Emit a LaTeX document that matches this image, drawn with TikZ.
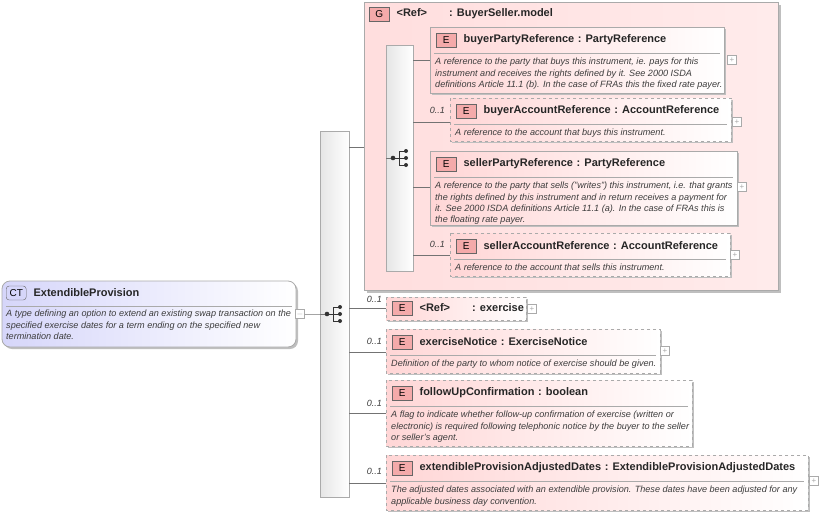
\documentclass[tikz,border=0pt]{standalone}
\usepackage{fontspec}
\setmainfont{Liberation Sans}
\usepackage{tikz}
\usetikzlibrary{positioning,shadows}
\definecolor{elpink}{RGB}{255,214,214}
\definecolor{grppink}{RGB}{255,222,222}
\definecolor{badge}{RGB}{244,170,170}
\definecolor{ctblue}{RGB}{214,214,250}
\definecolor{edge}{RGB}{170,170,170}
\definecolor{txt}{RGB}{60,60,60}
\tikzset{
	el box/.style={draw=edge,line width=0.8pt,left color=elpink,right color=white,drop shadow={shadow xshift=2pt,shadow yshift=-2pt,fill=black!25,opacity=1}},
	opt box/.style={el box,dashed},
	grp box/.style={draw=edge,line width=0.8pt,left color=grppink,right color=grppink!60,drop shadow={shadow xshift=3pt,shadow yshift=-3pt,fill=black!25,opacity=1}},
	ct box/.style={draw=edge,line width=0.8pt,rounded corners=8pt,left color=ctblue,right color=white,drop shadow={shadow xshift=2pt,shadow yshift=-2pt,fill=black!25,opacity=1}},
	bar/.style={draw=edge,left color=black!10,right color=white},
	badge/.style={draw=black!60,fill=badge,minimum width=20pt,minimum height=14pt,inner sep=0pt,font=\fontsize{10}{10}\selectfont},
	title/.style={anchor=west,inner sep=0pt,font=\bfseries\fontsize{11}{12}\selectfont,text=black!85},
	desc/.style={anchor=north west,inner sep=0pt,align=left,font=\itshape\fontsize{9.1}{11.3}\selectfont,text=txt},
	card/.style={anchor=east,inner sep=0pt,font=\itshape\fontsize{9}{9}\selectfont,text=txt},
	plus/.style={draw=edge,fill=white,minimum size=9pt,inner sep=0pt,font=\fontsize{8}{8}\selectfont,text=edge},
	conn/.style={draw=black!55,line width=0.5pt}
}
% element box: name, x1, y1, x2, y2, style, title, description
\newcommand{\elem}[8]{%
	\draw[#6] (#2,#3) rectangle (#4,#5);
	\node[badge,anchor=west] (#1b) at (#2+6,#3+13) {E};
	\node[title,right=7pt of #1b] (#1) {#7};
	\draw[edge] (#2+4,#3+26) -- (#4-4,#3+26);
	\node[desc] (#1d) at (#2+5,#3+31) {#8};
}
\begin{document}
\begin{tikzpicture}[x=1pt,y=-1pt]
	\useasboundingbox (0,0) rectangle (820,515);
	% complex type
	\draw[ct box] (2,281) rectangle (296,347);
	\node[draw=black!60,fill=ctblue,rounded corners=3pt,minimum width=20pt,minimum height=14pt,inner sep=0pt,font=\fontsize{10}{10}\selectfont,anchor=west] (ctb) at (6,293) {CT};
	\node[title,right=7pt of ctb] (ct) {ExtendibleProvision};
	\draw[edge] (6,306) -- (292,306);
	\node[desc] (ctd) at (6,310) {A type defining an option to extend an existing swap transaction on the\\specified exercise dates for a term ending on the specified new\\termination date.};
	\node[plus] (ctm) at (300,314) {$-$};
	% sequences
	\draw[bar] (320,131) rectangle (349,497);
	\coordinate (seq) at (334,314);
	\draw[grp box] (364,2) rectangle (778,290);
	\node[badge,anchor=west] (gb) at (369,14) {G};
	\node[title,right=7pt of gb] (g) {<Ref>\hspace{22pt}: BuyerSeller.model};
	\draw[bar] (386,45) rectangle (413,271);
	\coordinate (iseq) at (400,158);
	% group members
	\elem{bpr}{430}{27}{724}{93}{el box}{buyerPartyReference\,\,: PartyReference}{A reference to the party that buys this instrument, ie. pays for this\\instrument and receives the rights defined by it. See 2000 ISDA\\definitions Article 11.1 (b). In the case of FRAs this the fixed rate payer.}
	\elem{bacr}{450}{98}{731}{141}{opt box}{buyerAccountReference\,\,: AccountReference}{A reference to the account that buys this instrument.}
	\elem{spr}{430}{151}{737}{225}{el box}{sellerPartyReference\,\,: PartyReference}{A reference to the party that sells ("writes") this instrument, i.e. that grants\\the rights defined by this instrument and in return receives a payment for\\it. See 2000 ISDA definitions Article 11.1 (a). In the case of FRAs this is\\the floating rate payer.}
	\elem{sacr}{450}{233}{730}{276}{opt box}{sellerAccountReference\,\,: AccountReference}{A reference to the account that sells this instrument.}
	% sequence members
	\draw[opt box] (386,297) rectangle (526,320);
	\node[badge,anchor=west] (exb) at (392,308) {E};
	\node[title,right=7pt of exb] (ex) {<Ref>\hspace{22pt}: exercise};
	\elem{en}{386}{329}{660}{373}{opt box}{exerciseNotice\,\,: ExerciseNotice}{Definition of the party to whom notice of exercise should be given.}
	\elem{fuc}{386}{380}{692}{446}{opt box}{followUpConfirmation\,\,: boolean}{A flag to indicate whether follow-up confirmation of exercise (written or\\electronic) is required following telephonic notice by the buyer to the seller\\or seller's agent.}
	\elem{epad}{386}{455}{808}{510}{opt box}{extendibleProvisionAdjustedDates\,\,: ExtendibleProvisionAdjustedDates}{The adjusted dates associated with an extendible provision. These dates have been adjusted for any\\applicable business day convention.}
	% plus markers
	\foreach \n/\x/\y in {p1/732/60,p2/737/122,p3/742/187,p4/735/255,p5/532/309,p6/665/351,p7/814/481}
		\node[plus] (\n) at (\x,\y) {+};
	% cardinalities
	\foreach \x/\y in {445/110,445/244,382/299,382/341,382/403,382/471}
		\node[card] at (\x,\y) {0..1};
	% connectors
	\draw[conn] (ctm) -- (seq) -- (320,314);
	\draw[conn] (349,147) -- (364,147);
	\foreach \y in {308,352,413,483}
		\draw[conn] (349,\y) -- (386,\y);
	\draw[conn] (386,158) -- (iseq);
	\foreach \y/\x in {60/430,122/450,187/430,255/450}
		\draw[conn] (413,\y) -- (\x,\y);
	% sequence symbols
	\foreach \c in {seq,iseq} {
		\fill[black!80] (\c) ++(-7,0) circle (2.3);
		\draw[black!80,line width=1pt] (\c) ++(-7,0) -- ++(6,0) ++(0,-7) -- ++(0,14);
		\foreach \dy in {-7,0,7} {
			\draw[black!80,line width=1pt] (\c) ++(-1,\dy) -- ++(6,0);
			\fill[black!80] (\c) ++(6,\dy) circle (2);
		}
	}
\end{tikzpicture}
\end{document}
